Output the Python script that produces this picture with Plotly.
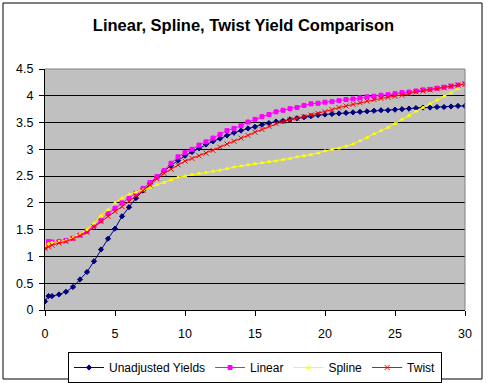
import plotly.graph_objects as go

maturities = [0, 0.25, 0.5] + [1 + 0.5 * i for i in range(59)]

unadjusted = [0.16, 0.26, 0.26, 0.29, 0.34, 0.43, 0.57, 0.71, 0.91, 1.13,
              1.33, 1.52, 1.75, 1.92, 2.09, 2.23, 2.36, 2.48, 2.59, 2.70,
              2.79, 2.88, 2.95, 3.02, 3.09, 3.15, 3.20, 3.26, 3.31, 3.35,
              3.39, 3.42, 3.46, 3.49, 3.52, 3.53, 3.56, 3.58, 3.60, 3.62,
              3.64, 3.65, 3.66, 3.67, 3.68, 3.69, 3.70, 3.71, 3.72, 3.73,
              3.73, 3.74, 3.75, 3.76, 3.77, 3.78, 3.78, 3.79, 3.79, 3.80,
              3.81, 3.81]

linear = [1.17, 1.28, 1.27, 1.28, 1.30, 1.34, 1.40, 1.47, 1.57, 1.67,
          1.80, 1.90, 2.00, 2.09, 2.18, 2.27, 2.38, 2.49, 2.60, 2.74,
          2.86, 2.94, 3.00, 3.08, 3.14, 3.21, 3.28, 3.35, 3.39, 3.44,
          3.51, 3.56, 3.61, 3.65, 3.70, 3.73, 3.76, 3.78, 3.82, 3.85,
          3.86, 3.88, 3.89, 3.91, 3.93, 3.94, 3.96, 3.98, 3.99, 4.01,
          4.02, 4.04, 4.06, 4.07, 4.09, 4.11, 4.12, 4.14, 4.16, 4.18,
          4.20, 4.22]

spline = [1.20, 1.24, 1.26, 1.28, 1.30, 1.35, 1.42, 1.50, 1.62, 1.76,
          1.87, 2.00, 2.09, 2.16, 2.20, 2.24, 2.29, 2.34, 2.38, 2.43,
          2.48, 2.50, 2.53, 2.55, 2.57, 2.59, 2.61, 2.64, 2.67, 2.69,
          2.71, 2.73, 2.75, 2.77, 2.78, 2.81, 2.83, 2.86, 2.88, 2.90,
          2.93, 2.97, 3.00, 3.02, 3.06, 3.10, 3.16, 3.22, 3.29, 3.35,
          3.41, 3.48, 3.56, 3.63, 3.71, 3.78, 3.85, 3.92, 3.99, 4.05,
          4.13, 4.22]

twist = [1.15, 1.18, 1.21, 1.25, 1.28, 1.33, 1.39, 1.45, 1.55, 1.65,
         1.75, 1.84, 1.93, 2.03, 2.13, 2.23, 2.33, 2.45, 2.55, 2.63,
         2.71, 2.78, 2.83, 2.88, 2.93, 2.98, 3.04, 3.10, 3.15, 3.21,
         3.26, 3.32, 3.37, 3.43, 3.48, 3.52, 3.55, 3.58, 3.61, 3.64,
         3.67, 3.70, 3.74, 3.78, 3.81, 3.84, 3.87, 3.90, 3.93, 3.95,
         3.97, 3.99, 4.01, 4.04, 4.07, 4.09, 4.11, 4.13, 4.15, 4.18,
         4.20, 4.22]

series = [
    ("Unadjusted Yields", unadjusted, "#000080", "diamond", 4),
    ("Linear", linear, "#FF00FF", "square", 4),
    ("Spline", spline, "#FFFF00", "triangle-up", 3),
    ("Twist", twist, "#FF0000", "x-thin", 5),
]

fig = go.Figure()
for name, vals, color, sym, size in series:
    fig.add_trace(go.Scatter(
        x=maturities, y=vals, name=name, mode="lines+markers",
        line=dict(color=color, width=1),
        marker=dict(symbol=sym, size=size, color=color,
                    line=dict(color=color, width=1)),
    ))

FONT = "Liberation Sans, Arial, sans-serif"

fig.update_layout(
    width=487, height=383,
    margin=dict(l=45, r=22, t=69, b=73, autoexpand=False),
    paper_bgcolor="white",
    plot_bgcolor="#C0C0C0",
    font=dict(family=FONT, size=12, color="black"),
    title=dict(text="<b>Linear, Spline, Twist Yield Comparison</b>",
               x=0.5, xref="container", xanchor="center",
               y=1 - 25 / 383, yref="container", yanchor="middle",
               font=dict(family=FONT, size=16.5, color="black")),
    showlegend=True,
    legend=dict(orientation="h", x=0.5, xanchor="center",
                y=(310 - 352) / 241, yanchor="top",
                bordercolor="black", borderwidth=1, bgcolor="white",
                font=dict(family=FONT, size=12, color="black"),
                itemwidth=30, tracegroupgap=0),
    xaxis=dict(range=[0, 30], dtick=5, tick0=0, showgrid=False,
               zeroline=False, showline=True, linecolor="black", linewidth=1,
               ticks="outside", ticklen=5, tickcolor="black", automargin=False,
               ticklabelstandoff=7,
               tickfont=dict(family=FONT, size=12.5, color="black")),
    yaxis=dict(range=[0, 4.5], dtick=0.5, tick0=0, showgrid=True,
               gridcolor="black", gridwidth=1,
               zeroline=False, showline=True, linecolor="black", linewidth=1,
               ticks="outside", ticklen=5, tickcolor="black", automargin=False,
               ticklabelstandoff=3,
               tickfont=dict(family=FONT, size=12.5, color="black")),
    shapes=[
        dict(type="line", xref="paper", yref="paper", x0=0, x1=1, y0=1, y1=1,
             line=dict(color="#808080", width=1), layer="above"),
        dict(type="line", xref="paper", yref="paper", x0=1, x1=1, y0=0, y1=1,
             line=dict(color="#808080", width=1), layer="above"),
        dict(type="rect", xref="paper", yref="paper",
             x0=(3 - 45) / 420, x1=(482 - 45) / 420,
             y0=(310 - 379) / 241, y1=(310 - 3) / 241,
             line=dict(color="black", width=1), layer="below"),
    ],
)

fig.write_html(
    "out.html",
    config={"displayModeBar": False},
    post_script="document.body.style.margin='0';document.body.style.overflow='hidden';",
)
